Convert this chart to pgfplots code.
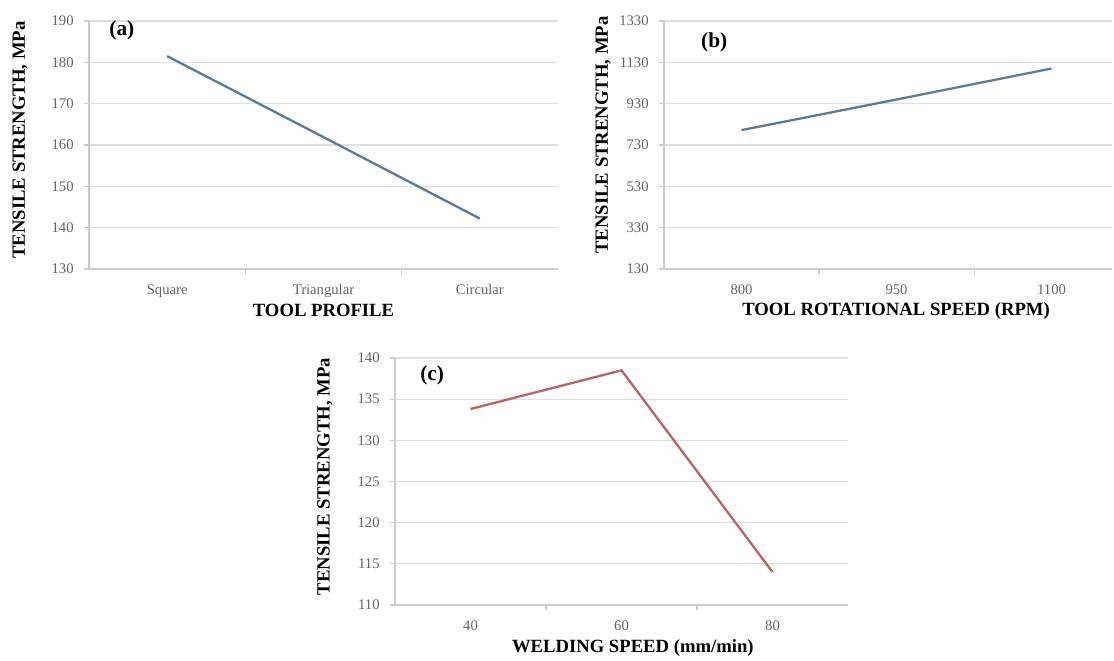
\documentclass[border=0pt]{standalone}
\usepackage{pgfplots}
\pgfplotsset{compat=1.18}
\usepackage{fontspec}
\setmainfont{Liberation Serif}
\definecolor{lineblue}{RGB}{86,121,158}
\definecolor{linered}{RGB}{184,98,98}
\definecolor{gridc}{RGB}{220,224,230}
\definecolor{axisc}{RGB}{200,204,210}
\definecolor{tickc}{RGB}{100,100,100}
\newcommand{\lblfont}{\bfseries\fontsize{14}{16}\selectfont}
\pgfplotsset{
  panel/.style={
    scale only axis,
    anchor=south west,
    axis x line*=bottom,
    axis y line*=left,
    axis line style={axisc, line width=0.8pt, -},
    ymajorgrids,
    grid style={gridc, line width=0.8pt},
    tick align=outside,
    major tick length=4pt,
    minor tick length=4pt,
    major x tick style={draw=none},
    minor x tick style={axisc, line width=0.8pt},
    ytick style={axisc, line width=0.8pt},
    xtick={1,2,3},
    minor xtick={1.5,2.5},
    xmin=0.5,
    /pgf/number format/assume math mode=true,
    /pgf/number format/1000 sep={},
    tick label style={font=\fontsize{11}{12}\selectfont, text=tickc},
    xticklabel style={yshift=-4pt},
    yticklabel style={xshift=-4pt},
    clip=false,
  }
}
\begin{document}
\begin{tikzpicture}
\path (0,0) rectangle (835.5pt,493.5pt);
% (a)
\begin{axis}[panel,
  at={(66.75pt,291.75pt)}, width=351.75pt, height=186pt,
  xmax=3.5, ymin=130, ymax=190, ytick={130,140,...,190},
  xticklabels={Square,Triangular,Circular},
  xlabel={TOOL PROFILE},
  ylabel={TENSILE STRENGTH, MPa},
  every axis x label/.style={at={(axis description cs:0.5,-0.169)}, anchor=center, font=\lblfont},
  every axis y label/.style={at={(axis description cs:-0.147,0.52)}, rotate=90, anchor=center, font=\lblfont},
]
\addplot[lineblue, line width=1.7pt] coordinates {(1,181.5) (2,161.9) (3,142.2)};
\node[font=\bfseries\fontsize{16}{18}\selectfont] at (axis description cs:0.07,0.964) {(a)};
\end{axis}
% (b)
\begin{axis}[panel,
  at={(498pt,291.75pt)}, width=336pt, height=186pt,
  xmax=3.39, ymin=130, ymax=1330, ytick={130,330,...,1330},
  xticklabels={800,950,1100},
  xlabel={TOOL ROTATIONAL SPEED (RPM)},
  ylabel={TENSILE STRENGTH, MPa},
  every axis x label/.style={at={(axis description cs:0.518,-0.169)}, anchor=center, font=\lblfont},
  every axis y label/.style={at={(axis description cs:-0.136,0.54)}, rotate=90, anchor=center, font=\lblfont},
]
\addplot[lineblue, line width=1.7pt] coordinates {(1,802) (2,950) (3,1100)};
\node[fill=white, inner xsep=9pt, inner ysep=5pt, font=\bfseries\fontsize{16}{18}\selectfont] at (axis description cs:0.112,0.915) {(b)};
\end{axis}
% (c)
\begin{axis}[panel,
  at={(296.25pt,39.75pt)}, width=339.75pt, height=185.25pt,
  xmax=3.5, ymin=110, ymax=140, ytick={110,115,...,140},
  xticklabels={40,60,80},
  xlabel={WELDING SPEED (mm/min)},
  ylabel={TENSILE STRENGTH, MPa},
  every axis x label/.style={at={(axis description cs:0.525,-0.174)}, anchor=center, font=\lblfont},
  every axis y label/.style={at={(axis description cs:-0.155,0.52)}, rotate=90, anchor=center, font=\lblfont},
]
\addplot[linered, line width=1.7pt] coordinates {(1,133.8) (2,138.5) (3,114)};
\node[font=\bfseries\fontsize{16}{18}\selectfont] at (axis description cs:0.082,0.93) {(c)};
\end{axis}
\end{tikzpicture}
\end{document}
